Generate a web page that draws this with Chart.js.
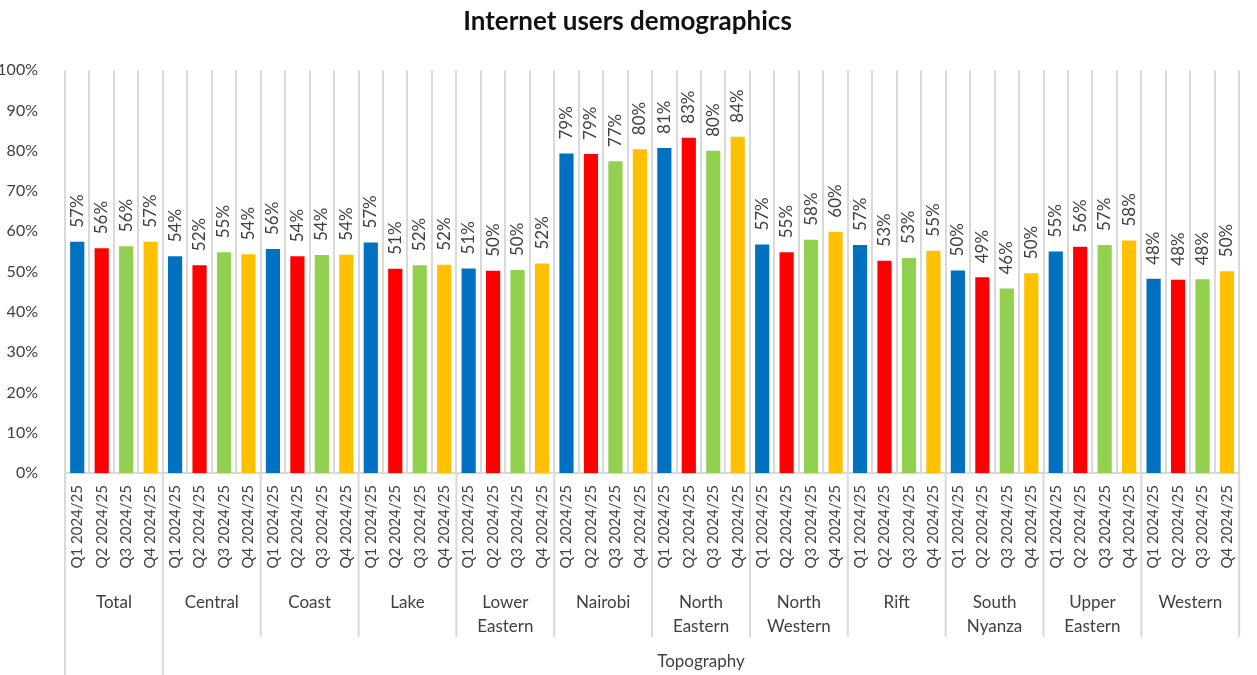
<!DOCTYPE html>
<html>
<head>
<meta charset="utf-8">
<script src="https://cdn.jsdelivr.net/npm/chart.js@4"></script>
<style>
  body { margin: 0; background: #fff; }
  #wrap { width: 1257px; height: 675px; }
</style>
</head>
<body>
<div id="wrap"><canvas id="myChart"></canvas></div>
<script>
// regions (group labels) and quarters (category labels)
var groups = ['Total', 'Central', 'Coast', 'Lake', ['Lower', 'Eastern'], 'Nairobi',
              ['North', 'Eastern'], ['North', 'Western'], 'Rift', ['South', 'Nyanza'],
              ['Upper', 'Eastern'], 'Western'];
var quarters = ['Q1 2024/25', 'Q2 2024/25', 'Q3 2024/25', 'Q4 2024/25'];
var topLevel = 'Topography';

// share of internet users, % (one value per region)
var q1Values = [57.4, 53.8, 55.6, 57.2, 50.8, 79.3, 80.7, 56.7, 56.6, 50.3, 55.0, 48.2];
var q2Values = [55.8, 51.6, 53.8, 50.7, 50.2, 79.2, 83.2, 54.8, 52.7, 48.6, 56.2, 48.0];
var q3Values = [56.3, 54.8, 54.1, 51.6, 50.4, 77.4, 80.0, 57.9, 53.4, 45.8, 56.6, 48.1];
var q4Values = [57.4, 54.3, 54.2, 51.7, 52.0, 80.4, 83.5, 59.9, 55.2, 49.6, 57.7, 50.1];

var quarterColors = ['#0070C0', '#FF0000', '#92D050', '#FFC000'];
var yTicks = [0, 10, 20, 30, 40, 50, 60, 70, 80, 90, 100];

var FONT = 'Lato, "Open Sans", sans-serif';
var TEXT = '#404040';

// flatten to one bar per region/quarter
var labels = [], values = [], colors = [];
var series = [q1Values, q2Values, q3Values, q4Values];
for (var g = 0; g < groups.length; g++) {
  for (var q = 0; q < quarters.length; q++) {
    labels.push(quarters[q]);
    values.push(series[q][g]);
    colors.push(quarterColors[q]);
  }
}

var barLabels = {
  id: 'barLabels',
  afterDatasetsDraw: function(chart) {
    var ctx = chart.ctx;
    var meta = chart.getDatasetMeta(0);
    ctx.save();
    ctx.fillStyle = TEXT;
    ctx.font = '17px ' + FONT;
    ctx.textAlign = 'left';
    ctx.textBaseline = 'middle';
    meta.data.forEach(function(bar, i) {
      ctx.save();
      ctx.translate(bar.x, bar.y - 14);
      ctx.rotate(-Math.PI / 2);
      ctx.fillText(Math.round(values[i]) + '%', 0, 0);
      ctx.restore();
    });
    ctx.restore();
  }
};

var groupAxis = {
  id: 'groupAxis',
  afterDraw: function(chart) {
    var ctx = chart.ctx;
    var x = chart.scales.x;
    var top = chart.chartArea.bottom;
    var n = quarters.length;
    ctx.save();
    ctx.strokeStyle = '#d9d9d9';
    ctx.lineWidth = 2;
    for (var g = 0; g <= groups.length; g++) {
      var px = x.getPixelForValue(g * n - 0.5);
      var bottom = (g === 0 || g === 1) ? 675 : 637;
      ctx.beginPath();
      ctx.moveTo(px, top);
      ctx.lineTo(px, bottom);
      ctx.stroke();
    }
    ctx.fillStyle = TEXT;
    ctx.font = '17px ' + FONT;
    ctx.textAlign = 'center';
    ctx.textBaseline = 'middle';
    groups.forEach(function(name, g) {
      var cx = (x.getPixelForValue(g * n - 0.5) + x.getPixelForValue(g * n + n - 0.5)) / 2;
      var lines = Array.isArray(name) ? name : [name];
      lines.forEach(function(t, k) { ctx.fillText(t, cx, 603 + k * 24); });
    });
    var tx = (x.getPixelForValue(n - 0.5) + x.getPixelForValue(groups.length * n - 0.5)) / 2;
    ctx.fillText(topLevel, tx, 662);
    ctx.restore();
  }
};

var ctx = document.getElementById('myChart').getContext('2d');
var myChart = new Chart(ctx, {
  type: 'bar',
  data: {
    labels: labels,
    datasets: [{
      data: values,
      backgroundColor: colors,
      borderWidth: 0,
      categoryPercentage: 1,
      barPercentage: 0.58
    }]
  },
  options: {
    responsive: true,
    maintainAspectRatio: false,
    animation: false,
    layout: { padding: { left: 0, right: 2, top: 0, bottom: 0 } },
    plugins: {
      legend: { display: false },
      tooltip: { enabled: false },
      title: {
        display: true,
        text: 'Internet users demographics',
        color: '#111',
        font: { family: FONT, size: 26, weight: 'bold' },
        padding: { top: 6, bottom: 33 }
      }
    },
    scales: {
      x: {
        grid: { color: '#d9d9d9', lineWidth: 2, drawTicks: false, offset: true },
        border: { display: true, color: '#d9d9d9', width: 2 },
        ticks: {
          color: TEXT, font: { family: FONT, size: 15 },
          minRotation: 90, maxRotation: 90, padding: 12, autoSkip: false
        },
        afterFit: function(scale) { scale.height = 202; }
      },
      y: {
        min: 0, max: 100,
        grid: { display: false },
        border: { display: false },
        afterBuildTicks: function(scale) {
          scale.ticks = yTicks.map(function(v) { return { value: v }; });
        },
        ticks: {
          color: TEXT, font: { family: FONT, size: 16 }, padding: 19,
          callback: function(v) { return v + '%'; }
        },
        afterFit: function(scale) { scale.width = 65; }
      }
    }
  },
  plugins: [barLabels, groupAxis]
});
</script>
</body>
</html>
